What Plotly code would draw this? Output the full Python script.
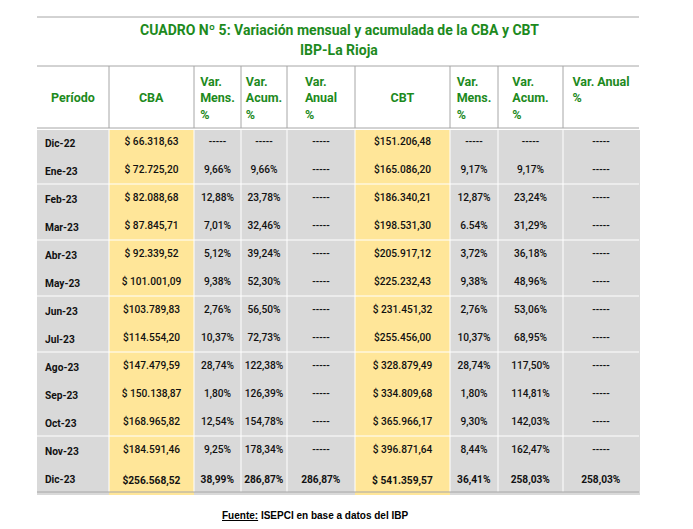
import plotly.graph_objects as go

# data
periodo = ["Dic-22", "Ene-23", "Feb-23", "Mar-23", "Abr-23", "May-23", "Jun-23",
           "Jul-23", "Ago-23", "Sep-23", "Oct-23", "Nov-23", "Dic-23"]
cba = ["$ 66.318,63", "$ 72.725,20", "$ 82.088,68", "$ 87.845,71", "$ 92.339,52",
       "$ 101.001,09", "$103.789,83", "$114.554,20", "$147.479,59", "$ 150.138,87",
       "$168.965,82", "$184.591,46", "$256.568,52"]
cba_mens = ["-----", "9,66%", "12,88%", "7,01%", "5,12%", "9,38%", "2,76%",
            "10,37%", "28,74%", "1,80%", "12,54%", "9,25%", "38,99%"]
cba_acum = ["-----", "9,66%", "23,78%", "32,46%", "39,24%", "52,30%", "56,50%",
            "72,73%", "122,38%", "126,39%", "154,78%", "178,34%", "286,87%"]
cba_anual = ["-----", "-----", "-----", "-----", "-----", "-----", "-----",
             "-----", "-----", "-----", "-----", "-----", "286,87%"]
cbt = ["$151.206,48", "$165.086,20", "$186.340,21", "$198.531,30", "$205.917,12",
       "$225.232,43", "$ 231.451,32", "$255.456,00", "$ 328.879,49", "$ 334.809,68",
       "$ 365.966,17", "$ 396.871,64", "$ 541.359,57"]
cbt_mens = ["-----", "9,17%", "12,87%", "6.54%", "3,72%", "9,38%", "2,76%",
            "10,37%", "28,74%", "1,80%", "9,30%", "8,44%", "36,41%"]
cbt_acum = ["-----", "9,17%", "23,24%", "31,29%", "36,18%", "48,96%", "53,06%",
            "68,95%", "117,50%", "114,81%", "142,03%", "162,47%", "258,03%"]
cbt_anual = ["-----", "-----", "-----", "-----", "-----", "-----", "-----",
             "-----", "-----", "-----", "-----", "-----", "258,03%"]

headers = ["\u00a0<br>Período", "\u00a0<br>CBA", "Var.<br>Mens.<br>%", "Var.<br>Acum.<br>%",
           "Var.<br>Anual<br>%", "\u00a0<br>CBT", "Var.<br>Mens.<br>%", "Var.<br>Acum.<br>%",
           "Var. Anual<br>%"]
# rows after which the sheet has a white separator
group_breaks = [2, 4, 6, 8, 11]

GREEN = "#1d8a1d"
GRAY = "#d9d9d9"
YELLOW = "#ffe699"
LINE = "#a6a6a6"
FONT = "Roboto, Liberation Sans, Arial"
# page body has an 8px margin, so the figure sits at (8, 8)
W, H = 685, 521
OFF = 8


def px(x):
    return (x - OFF) / W


def py(y):
    return 1 - (y - OFF) / H


colwidths = [72, 85, 47, 46, 68, 95, 48, 65, 76]
LEFT, TOP, HEAD_H, ROW_H = 37, 66, 62, 28
RIGHT = LEFT + sum(colwidths)
BOTTOM = TOP + HEAD_H + ROW_H * len(periodo)

cols = [periodo, cba, cba_mens, cba_acum, cba_anual, cbt, cbt_mens, cbt_acum, cbt_anual]
n = len(periodo)
# no wrapping inside cells, last row bold
values = []
for j, c in enumerate(cols):
    col = []
    for i, v in enumerate(c):
        v = v.replace(" ", "\u00a0")
        if i == n - 1 or j == 0:
            v = "<b>%s</b>" % v
        col.append(v)
    values.append(col)

col_fill = [YELLOW if j in (1, 5) else GRAY for j in range(len(cols))]

fig = go.Figure()
fig.add_trace(go.Table(
    columnwidth=colwidths,
    domain=dict(x=[px(LEFT), px(RIGHT)], y=[0, py(TOP)]),
    header=dict(
        values=["<b>%s</b>" % h.replace(" ", "\u00a0") for h in headers],
        fill_color="white",
        line=dict(color="white", width=1),
        align="center",
        height=HEAD_H,
        font=dict(family=FONT, size=12.5, color=GREEN),
    ),
    cells=dict(
        values=values,
        fill_color=[[c] * n for c in col_fill],
        line=dict(color=col_fill, width=1),
        align=["left"] + ["center"] * 8,
        height=ROW_H,
        font=dict(family=FONT, size=10.2, color="#111111", weight=500),
    ),
))

# frame lines of the sheet
shapes = []
for y in [17, TOP, TOP + HEAD_H]:
    shapes.append(dict(type="line", xref="paper", yref="paper", x0=px(LEFT), x1=px(RIGHT),
                       y0=py(y), y1=py(y), line=dict(color=LINE, width=1)))
xb = LEFT
for w in colwidths[:-1]:
    xb += w
    shapes.append(dict(type="line", xref="paper", yref="paper", x0=px(xb), x1=px(xb),
                       y0=py(TOP), y1=py(TOP + HEAD_H), line=dict(color=LINE, width=1)))
    shapes.append(dict(type="line", xref="paper", yref="paper", x0=px(xb), x1=px(xb),
                       y0=py(TOP + HEAD_H + 1), y1=py(BOTTOM), line=dict(color="white", width=1)))
for r in group_breaks:
    y = TOP + HEAD_H + ROW_H * r
    shapes.append(dict(type="line", xref="paper", yref="paper", x0=px(LEFT), x1=px(RIGHT),
                       y0=py(y), y1=py(y), line=dict(color="white", width=1)))
shapes.append(dict(type="line", xref="paper", yref="paper", x0=px(LEFT), x1=px(RIGHT),
                   y0=py(BOTTOM), y1=py(BOTTOM), line=dict(color=LINE, width=1)))

fig.update_layout(
    width=W,
    height=H,
    autosize=False,
    margin=dict(l=0, r=0, t=0, b=0),
    paper_bgcolor="white",
    plot_bgcolor="white",
    shapes=shapes,
    annotations=[
        dict(text="<b>CUADRO Nº 5: Variación mensual y acumulada de la CBA y CBT</b>",
             x=px(339), y=py(30), xref="paper", yref="paper", showarrow=False,
             xanchor="center", yanchor="middle",
             font=dict(family=FONT, size=14, color=GREEN)),
        dict(text="<b>IBP-La Rioja</b>",
             x=px(339), y=py(50), xref="paper", yref="paper", showarrow=False,
             xanchor="center", yanchor="middle",
             font=dict(family=FONT, size=14, color=GREEN)),
        dict(text="<b><u>Fuente:</u> ISEPCI en base a datos del IBP</b>",
             x=px(315), y=py(515), xref="paper", yref="paper", showarrow=False,
             xanchor="center", yanchor="middle",
             font=dict(family="Liberation Sans, Arial", size=10, color="black")),
    ],
)

fig.write_html("out.html")
